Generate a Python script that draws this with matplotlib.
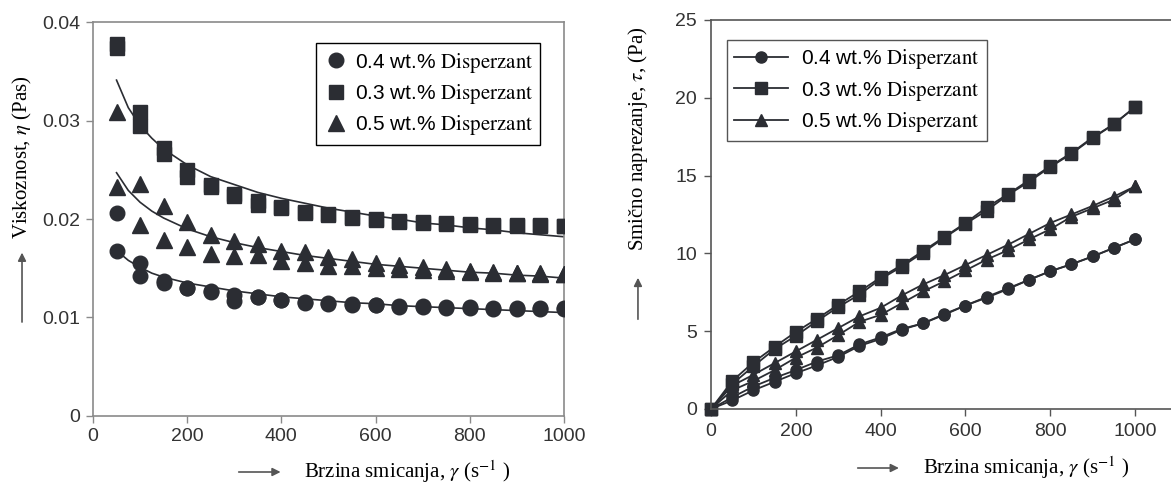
import matplotlib.pyplot as plt

plt.rcParams['font.family'] = ['Liberation Sans', 'DejaVu Sans']
plt.rcParams['mathtext.fontset'] = 'stix'

# viscosity vs shear rate (two measured points per rate for each series)
rate_visc = [50, 100, 150, 200, 250, 300, 350, 400, 450, 500,
             550, 600, 650, 700, 750, 800, 850, 900, 950, 1000]
visc_04_a = [0.0206, 0.0155, 0.0137, 0.0130, 0.0127, 0.0123, 0.0121, 0.0118, 0.0116, 0.0115,
             0.0114, 0.0113, 0.0112, 0.0112, 0.0111, 0.0111, 0.0110, 0.0110, 0.0110, 0.0110]
visc_04_b = [0.0168, 0.0142, 0.0135, 0.0130, 0.0126, 0.0117, 0.0121, 0.0118, 0.0115, 0.0114,
             0.0113, 0.0113, 0.0111, 0.0111, 0.0110, 0.0110, 0.0109, 0.0109, 0.0109, 0.0109]
visc_03_a = [0.0378, 0.0309, 0.0272, 0.0250, 0.0235, 0.0225, 0.0218, 0.0212, 0.0207, 0.0205,
             0.0202, 0.0200, 0.0198, 0.0197, 0.0196, 0.0195, 0.0194, 0.0194, 0.0194, 0.0193]
visc_03_b = [0.0374, 0.0294, 0.0266, 0.0243, 0.0232, 0.0223, 0.0214, 0.0211, 0.0206, 0.0204,
             0.0201, 0.0199, 0.0197, 0.0196, 0.0195, 0.0194, 0.0193, 0.0193, 0.0193, 0.0193]
visc_05_a = [0.0309, 0.0236, 0.0213, 0.0197, 0.0184, 0.0178, 0.0175, 0.0168, 0.0167, 0.0161,
             0.0159, 0.0155, 0.0153, 0.0151, 0.0149, 0.0147, 0.0146, 0.0145, 0.0145, 0.0144]
visc_05_b = [0.0232, 0.0194, 0.0179, 0.0172, 0.0164, 0.0162, 0.0163, 0.0157, 0.0155, 0.0152,
             0.0152, 0.0150, 0.0149, 0.0148, 0.0147, 0.0146, 0.0145, 0.0145, 0.0144, 0.0144]

# fitted curves as drawn in the figure
rate_fit = [50, 75, 100, 125, 150, 200, 250, 300, 350, 400, 450, 500,
            550, 600, 650, 700, 750, 800, 850, 900, 950, 1000]
fit_04 = [0.0168, 0.0158, 0.0151, 0.0145, 0.0141, 0.0135, 0.0131, 0.0127, 0.0124, 0.0121,
          0.0119, 0.0117, 0.0115, 0.0114, 0.0112, 0.0111, 0.0110, 0.0109, 0.0108, 0.0107,
          0.0106, 0.0105]
fit_03 = [0.0341, 0.0313, 0.0295, 0.0282, 0.0271, 0.0255, 0.0243, 0.0235, 0.0227, 0.0221,
          0.0216, 0.0211, 0.0207, 0.0203, 0.0200, 0.0196, 0.0194, 0.0191, 0.0189, 0.0186,
          0.0184, 0.0182]
fit_05 = [0.0247, 0.0229, 0.0217, 0.0208, 0.0201, 0.0190, 0.0182, 0.0176, 0.0171, 0.0167,
          0.0163, 0.0160, 0.0157, 0.0154, 0.0152, 0.0150, 0.0148, 0.0146, 0.0145, 0.0143,
          0.0142, 0.0140]

# shear stress vs shear rate (up / down sweep)
rate_stress = [0, 50, 100, 150, 200, 250, 300, 350, 400, 450, 500,
               550, 600, 650, 700, 750, 800, 850, 900, 950, 1000]
stress_04_up = [0, 0.55, 1.2, 1.75, 2.3, 2.8, 3.35, 4.05, 4.5, 5.1, 5.5,
                6.05, 6.65, 7.15, 7.7, 8.3, 8.85, 9.3, 9.8, 10.35, 10.9]
stress_04_dn = [0, 0.75, 1.45, 2.0, 2.5, 3.05, 3.45, 4.15, 4.6, 5.15, 5.5,
                6.1, 6.65, 7.2, 7.75, 8.3, 8.85, 9.3, 9.8, 10.35, 10.9]
stress_03_up = [0, 1.8, 3.0, 4.0, 4.95, 5.8, 6.7, 7.55, 8.45, 9.25, 10.15,
                11.05, 11.95, 12.95, 13.8, 14.7, 15.6, 16.45, 17.45, 18.3, 19.4]
stress_03_dn = [0, 1.6, 2.75, 3.85, 4.7, 5.65, 6.55, 7.35, 8.35, 9.15, 10.05,
                11.0, 11.9, 12.75, 13.75, 14.6, 15.55, 16.4, 17.4, 18.3, 19.4]
stress_05_up = [0, 1.5, 2.2, 2.95, 3.7, 4.45, 5.2, 5.95, 6.5, 7.3, 8.0,
                8.6, 9.25, 9.9, 10.55, 11.25, 11.95, 12.5, 13.05, 13.65, 14.3]
stress_05_dn = [0, 1.2, 1.8, 2.5, 3.3, 3.95, 4.75, 5.6, 6.05, 6.8, 7.55,
                8.2, 8.9, 9.6, 10.2, 10.9, 11.55, 12.35, 12.9, 13.45, 14.3]

labels = ['0.4 wt.% $\\mathrm{Disperzant}$',
          '0.3 wt.% $\\mathrm{Disperzant}$',
          '0.5 wt.% $\\mathrm{Disperzant}$']

dark = '#2b2d33'
spine_grey = '#8a8a8a'
tick_col = '#333333'
serif = ['Liberation Serif', 'DejaVu Serif']

fig = plt.figure(figsize=(11.71, 4.87), dpi=100)

# ---- left: viscosity ----
ax1 = fig.add_axes([0.0794, 0.1458, 0.4022, 0.809])
ax1.plot(rate_fit, fit_04, color=dark, lw=1.2, zorder=2)
ax1.plot(rate_fit, fit_03, color=dark, lw=1.2, zorder=2)
ax1.plot(rate_fit, fit_05, color=dark, lw=1.2, zorder=2)
ax1.plot(rate_visc, visc_04_a, 'o', color=dark, ms=10.5, label=labels[0], zorder=3)
ax1.plot(rate_visc, visc_04_b, 'o', color=dark, ms=10.5, zorder=3)
ax1.plot(rate_visc, visc_03_a, 's', color=dark, ms=10.5, label=labels[1], zorder=3)
ax1.plot(rate_visc, visc_03_b, 's', color=dark, ms=10.5, zorder=3)
ax1.plot(rate_visc, visc_05_a, '^', color=dark, ms=11, label=labels[2], zorder=3)
ax1.plot(rate_visc, visc_05_b, '^', color=dark, ms=11, zorder=3)
ax1.set_xlim(0, 1000)
ax1.set_ylim(0, 0.04)
ax1.set_xticks([0, 200, 400, 600, 800, 1000])
ax1.set_yticks([0, 0.01, 0.02, 0.03, 0.04])
ax1.set_yticklabels(['0', '0.01', '0.02', '0.03', '0.04'])
for s in ax1.spines.values():
    s.set_color(spine_grey)
    s.set_linewidth(1.2)
ax1.tick_params(direction='out', length=5, width=1, color=spine_grey,
                labelsize=14, labelcolor=tick_col, pad=4)
leg1 = ax1.legend(loc='upper right', fontsize=15, frameon=True, fancybox=False,
                  edgecolor='black', framealpha=1, handletextpad=0.3,
                  borderpad=0.35, labelspacing=0.35, handlelength=1.2,
                  bbox_to_anchor=(0.972, 0.972))
leg1.get_frame().set_linewidth(1.0)

# ---- right: shear stress ----
ax2 = fig.add_axes([0.6072, 0.1602, 0.3928, 0.7988])
ax2.plot(rate_stress, stress_04_up, '-o', color=dark, ms=8, lw=1.3, label=labels[0], clip_on=False)
ax2.plot(rate_stress, stress_04_dn, '-o', color=dark, ms=8, lw=1.3, clip_on=False)
ax2.plot(rate_stress, stress_03_up, '-s', color=dark, ms=8, lw=1.3, label=labels[1], clip_on=False)
ax2.plot(rate_stress, stress_03_dn, '-s', color=dark, ms=8, lw=1.3, clip_on=False)
ax2.plot(rate_stress, stress_05_up, '-^', color=dark, ms=9, lw=1.3, label=labels[2], clip_on=False)
ax2.plot(rate_stress, stress_05_dn, '-^', color=dark, ms=9, lw=1.3, clip_on=False)
ax2.set_xlim(0, 1085)
ax2.set_ylim(0, 25)
ax2.set_xticks([0, 200, 400, 600, 800, 1000])
ax2.set_yticks([0, 5, 10, 15, 20, 25])
ax2.spines['right'].set_visible(False)
for k in ['left', 'bottom', 'top']:
    ax2.spines[k].set_color('#555555')
    ax2.spines[k].set_linewidth(1.2)
ax2.tick_params(direction='out', length=5, width=1, color='#555555',
                labelsize=14, labelcolor=tick_col, pad=5)
leg2 = ax2.legend(loc='upper left', fontsize=15, frameon=True, fancybox=False,
                  edgecolor='#555555', framealpha=1, handletextpad=0.6,
                  borderpad=0.35, labelspacing=0.35, handlelength=2.6,
                  bbox_to_anchor=(0.012, 0.975))
leg2.get_frame().set_linewidth(1.0)
for h in leg2.get_lines():
    h.set_markersize(8)

# ---- axis labels with arrows ----
arrow = dict(arrowstyle='-|>', color='#555555', lw=1.2, mutation_scale=12)

fig.text(0.0188, 0.6776, 'Viskoznost, $\\eta$ (Pas)', rotation=90,
         ha='center', va='center', fontsize=15, family=serif, color='black')
fig.add_artist(plt.Annotation('', xy=(0.0188, 0.487), xytext=(0.0188, 0.333),
                              xycoords='figure fraction', arrowprops=arrow))

fig.text(0.5448, 0.7156, 'Smično naprezanje, $\\tau$, (Pa)', rotation=90,
         ha='center', va='center', fontsize=15, family=serif, color='black')
fig.add_artist(plt.Annotation('', xy=(0.5448, 0.4353), xytext=(0.5448, 0.3388),
                              xycoords='figure fraction', arrowprops=arrow))

fig.text(0.2596, 0.0308, 'Brzina smicanja, $\\gamma$ (s$^{-1}$ )',
         ha='left', va='center', fontsize=15, family=serif, color='black')
fig.add_artist(plt.Annotation('', xy=(0.242, 0.0308), xytext=(0.2015, 0.0308),
                              xycoords='figure fraction', arrowprops=arrow))

fig.text(0.7882, 0.039, 'Brzina smicanja, $\\gamma$ (s$^{-1}$ )',
         ha='left', va='center', fontsize=15, family=serif, color='black')
fig.add_artist(plt.Annotation('', xy=(0.770, 0.039), xytext=(0.7301, 0.039),
                              xycoords='figure fraction', arrowprops=arrow))

fig.savefig('out.png', dpi=100)
